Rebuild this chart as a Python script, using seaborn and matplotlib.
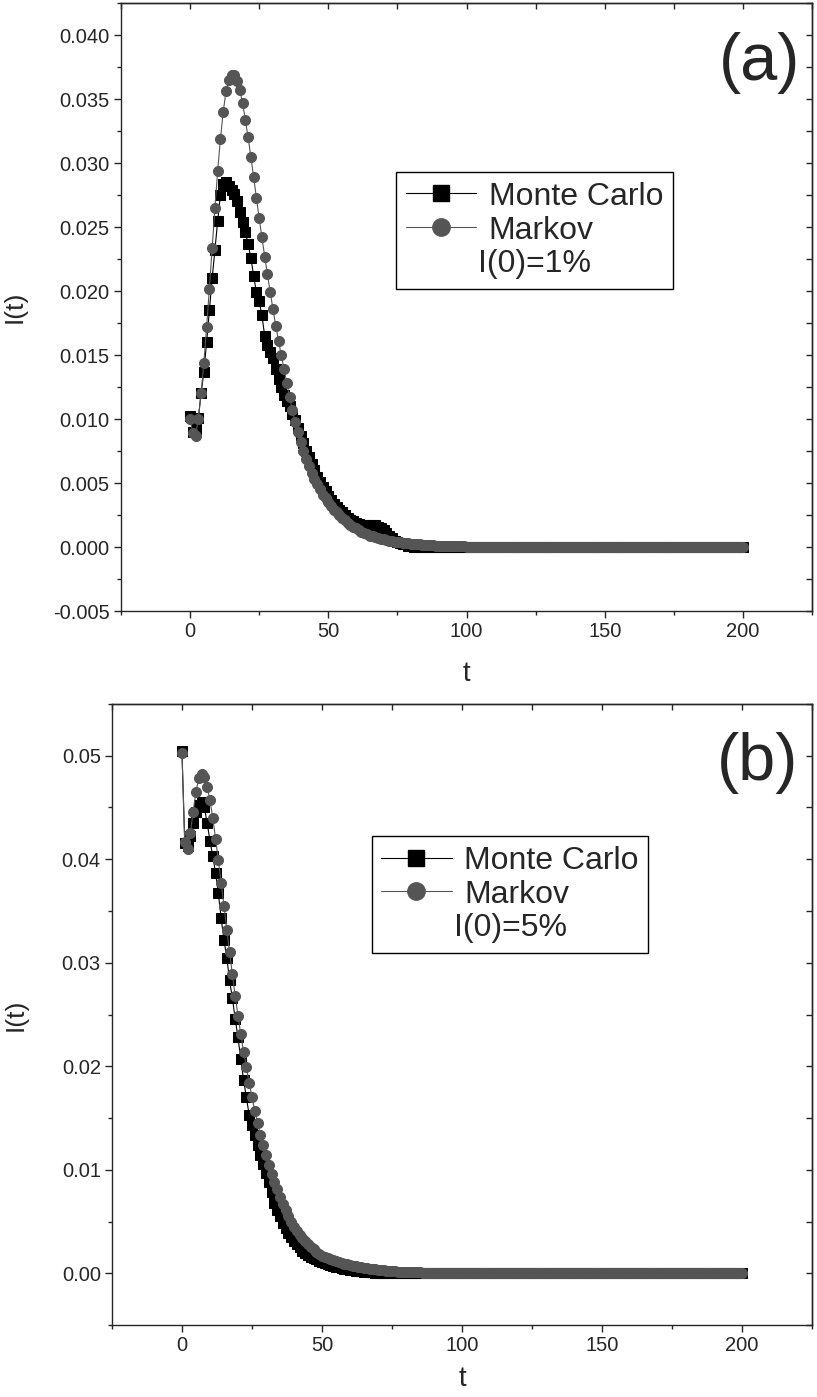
import numpy as np
import matplotlib
matplotlib.use("Agg")
import matplotlib.pyplot as plt
from matplotlib.lines import Line2D
from matplotlib.ticker import MultipleLocator, FormatStrFormatter
import seaborn as sns

# ---------------------------------------------------
# Data, t = 0..200
# ---------------------------------------------------

T = np.arange(0, 201)

MC_A = [
    0.0102, 0.0090, 0.0092, 0.0101, 0.0120, 0.0137, 0.0160, 0.0185, 0.0210, 0.0232,
    0.0255, 0.0275, 0.0284, 0.0285, 0.0282, 0.0279, 0.0276, 0.0270, 0.0262, 0.0254,
    0.0246, 0.0237, 0.0226, 0.0212, 0.0199, 0.0192, 0.0181, 0.0165, 0.0158, 0.0152,
    0.0148, 0.0139, 0.0131, 0.0125, 0.0119, 0.0114, 0.0110, 0.0104, 0.0099, 0.0093,
    0.0087, 0.0081, 0.0075, 0.0070, 0.0065, 0.0060, 0.0055, 0.0051, 0.0047, 0.0044,
    0.0040, 0.0037, 0.0034, 0.0031, 0.0029, 0.0027, 0.0025, 0.0023, 0.0021, 0.0020,
    0.0019, 0.0018, 0.0017, 0.0017, 0.0017, 0.0017, 0.0017, 0.0017, 0.0016, 0.0015,
    0.0013, 0.0011, 0.0009, 0.0007, 0.0005, 0.0004, 0.0003, 0.0002, 0.0002, 0.0001,
    0.0001, 0.0, 0.0, 0.0, 0.0, 0.0, 0.0, 0.0, 0.0, 0.0,
    0.0, 0.0, 0.0, 0.0, 0.0, 0.0, 0.0, 0.0, 0.0, 0.0,
    0.0, 0.0, 0.0, 0.0, 0.0, 0.0, 0.0, 0.0, 0.0, 0.0,
    0.0, 0.0, 0.0, 0.0, 0.0, 0.0, 0.0, 0.0, 0.0, 0.0,
    0.0, 0.0, 0.0, 0.0, 0.0, 0.0, 0.0, 0.0, 0.0, 0.0,
    0.0, 0.0, 0.0, 0.0, 0.0, 0.0, 0.0, 0.0, 0.0, 0.0,
    0.0, 0.0, 0.0, 0.0, 0.0, 0.0, 0.0, 0.0, 0.0, 0.0,
    0.0, 0.0, 0.0, 0.0, 0.0, 0.0, 0.0, 0.0, 0.0, 0.0,
    0.0, 0.0, 0.0, 0.0, 0.0, 0.0, 0.0, 0.0, 0.0, 0.0,
    0.0, 0.0, 0.0, 0.0, 0.0, 0.0, 0.0, 0.0, 0.0, 0.0,
    0.0, 0.0, 0.0, 0.0, 0.0, 0.0, 0.0, 0.0, 0.0, 0.0,
    0.0, 0.0, 0.0, 0.0, 0.0, 0.0, 0.0, 0.0, 0.0, 0.0,
    0.0,
]

MARKOV_A = [
    0.0100, 0.0089, 0.0087, 0.0100, 0.0120, 0.0144, 0.0172, 0.0202, 0.0234, 0.0265,
    0.0294, 0.0319, 0.0340, 0.0356, 0.0365, 0.0369, 0.0369, 0.0364, 0.0357, 0.0347,
    0.0334, 0.0320, 0.0305, 0.0289, 0.0273, 0.0257, 0.0242, 0.0227, 0.0213, 0.0199,
    0.0186, 0.0173, 0.0161, 0.0150, 0.0139, 0.0128, 0.0117, 0.0107, 0.0098, 0.0090,
    0.0082, 0.0075, 0.0069, 0.0063, 0.0058, 0.0053, 0.0049, 0.0045, 0.0041, 0.0038,
    0.0035, 0.0032, 0.0029, 0.0027, 0.0025, 0.0023, 0.0021, 0.0019, 0.0017, 0.0016,
    0.0015, 0.0013, 0.0012, 0.0011, 0.0010, 0.0009, 0.00085, 0.0008, 0.0007, 0.00065,
    0.0006, 0.00055, 0.0005, 0.00046, 0.00042, 0.00039, 0.00036, 0.00033, 0.0003, 0.00028,
    0.00026, 0.00024, 0.00022, 0.0002, 0.00018, 0.00017, 0.00016, 0.00014, 0.00013, 0.00012,
    0.00011, 0.0001, 0.00009, 0.00008, 0.00008, 0.00007, 0.00006, 0.00006, 0.00005, 0.00005,
    0.00004, 0.0, 0.0, 0.0, 0.0, 0.0, 0.0, 0.0, 0.0, 0.0,
    0.0, 0.0, 0.0, 0.0, 0.0, 0.0, 0.0, 0.0, 0.0, 0.0,
    0.0, 0.0, 0.0, 0.0, 0.0, 0.0, 0.0, 0.0, 0.0, 0.0,
    0.0, 0.0, 0.0, 0.0, 0.0, 0.0, 0.0, 0.0, 0.0, 0.0,
    0.0, 0.0, 0.0, 0.0, 0.0, 0.0, 0.0, 0.0, 0.0, 0.0,
    0.0, 0.0, 0.0, 0.0, 0.0, 0.0, 0.0, 0.0, 0.0, 0.0,
    0.0, 0.0, 0.0, 0.0, 0.0, 0.0, 0.0, 0.0, 0.0, 0.0,
    0.0, 0.0, 0.0, 0.0, 0.0, 0.0, 0.0, 0.0, 0.0, 0.0,
    0.0, 0.0, 0.0, 0.0, 0.0, 0.0, 0.0, 0.0, 0.0, 0.0,
    0.0, 0.0, 0.0, 0.0, 0.0, 0.0, 0.0, 0.0, 0.0, 0.0,
    0.0,
]

MC_B = [
    0.0505, 0.0416, 0.0413, 0.0422, 0.0435, 0.0446, 0.0452, 0.0455, 0.0450, 0.0435,
    0.0418, 0.0403, 0.0387, 0.0367, 0.0343, 0.0322, 0.0305, 0.0283, 0.0266, 0.0246,
    0.0228, 0.0207, 0.0187, 0.0170, 0.0153, 0.0143, 0.0134, 0.0124, 0.0114, 0.0106,
    0.0097, 0.0088, 0.0079, 0.0068, 0.0061, 0.0055, 0.0049, 0.0044, 0.0039, 0.0035,
    0.0031, 0.0028, 0.0025, 0.0022, 0.0020, 0.0018, 0.0016, 0.0015, 0.0014, 0.0012,
    0.0011, 0.0010, 0.0009, 0.0008, 0.0007, 0.0006, 0.0006, 0.0005, 0.0004, 0.0004,
    0.0003, 0.0003, 0.0002, 0.0002, 0.0002, 0.0001, 0.0001, 0.0001, 0.0001, 0.0,
    0.0, 0.0, 0.0, 0.0, 0.0, 0.0, 0.0, 0.0, 0.0, 0.0,
    0.0, 0.0, 0.0, 0.0, 0.0, 0.0, 0.0, 0.0, 0.0, 0.0,
    0.0, 0.0, 0.0, 0.0, 0.0, 0.0, 0.0, 0.0, 0.0, 0.0,
    0.0, 0.0, 0.0, 0.0, 0.0, 0.0, 0.0, 0.0, 0.0, 0.0,
    0.0, 0.0, 0.0, 0.0, 0.0, 0.0, 0.0, 0.0, 0.0, 0.0,
    0.0, 0.0, 0.0, 0.0, 0.0, 0.0, 0.0, 0.0, 0.0, 0.0,
    0.0, 0.0, 0.0, 0.0, 0.0, 0.0, 0.0, 0.0, 0.0, 0.0,
    0.0, 0.0, 0.0, 0.0, 0.0, 0.0, 0.0, 0.0, 0.0, 0.0,
    0.0, 0.0, 0.0, 0.0, 0.0, 0.0, 0.0, 0.0, 0.0, 0.0,
    0.0, 0.0, 0.0, 0.0, 0.0, 0.0, 0.0, 0.0, 0.0, 0.0,
    0.0, 0.0, 0.0, 0.0, 0.0, 0.0, 0.0, 0.0, 0.0, 0.0,
    0.0, 0.0, 0.0, 0.0, 0.0, 0.0, 0.0, 0.0, 0.0, 0.0,
    0.0, 0.0, 0.0, 0.0, 0.0, 0.0, 0.0, 0.0, 0.0, 0.0,
    0.0,
]

MARKOV_B = [
    0.0503, 0.0417, 0.0410, 0.0425, 0.0446, 0.0465, 0.0478, 0.0482, 0.0479, 0.0470,
    0.0457, 0.0440, 0.0420, 0.0399, 0.0377, 0.0355, 0.0332, 0.0310, 0.0289, 0.0268,
    0.0249, 0.0231, 0.0214, 0.0199, 0.0184, 0.0170, 0.0157, 0.0145, 0.0134, 0.0124,
    0.0114, 0.0105, 0.0096, 0.0088, 0.0081, 0.0074, 0.0067, 0.0061, 0.0055, 0.0050,
    0.0045, 0.0041, 0.0037, 0.0034, 0.0031, 0.0028, 0.0025, 0.0023, 0.0021, 0.0019,
    0.0017, 0.0016, 0.0015, 0.0014, 0.0013, 0.0012, 0.0011, 0.0010, 0.0009, 0.0009,
    0.0008, 0.0007, 0.0007, 0.0006, 0.0006, 0.0005, 0.0005, 0.00045, 0.0004, 0.00037,
    0.00034, 0.0003, 0.00028, 0.00025, 0.00023, 0.0002, 0.00019, 0.00017, 0.00015, 0.00014,
    0.00013, 0.00012, 0.00011, 0.0001, 0.00009, 0.00008, 0.00007, 0.00006, 0.00005, 0.00005,
    0.00004, 0.0, 0.0, 0.0, 0.0, 0.0, 0.0, 0.0, 0.0, 0.0,
    0.0, 0.0, 0.0, 0.0, 0.0, 0.0, 0.0, 0.0, 0.0, 0.0,
    0.0, 0.0, 0.0, 0.0, 0.0, 0.0, 0.0, 0.0, 0.0, 0.0,
    0.0, 0.0, 0.0, 0.0, 0.0, 0.0, 0.0, 0.0, 0.0, 0.0,
    0.0, 0.0, 0.0, 0.0, 0.0, 0.0, 0.0, 0.0, 0.0, 0.0,
    0.0, 0.0, 0.0, 0.0, 0.0, 0.0, 0.0, 0.0, 0.0, 0.0,
    0.0, 0.0, 0.0, 0.0, 0.0, 0.0, 0.0, 0.0, 0.0, 0.0,
    0.0, 0.0, 0.0, 0.0, 0.0, 0.0, 0.0, 0.0, 0.0, 0.0,
    0.0, 0.0, 0.0, 0.0, 0.0, 0.0, 0.0, 0.0, 0.0, 0.0,
    0.0, 0.0, 0.0, 0.0, 0.0, 0.0, 0.0, 0.0, 0.0, 0.0,
    0.0, 0.0, 0.0, 0.0, 0.0, 0.0, 0.0, 0.0, 0.0, 0.0,
    0.0,
]

SERIES_NAMES = ["Monte Carlo", "Markov"]
MC_COLOR = "black"
MK_COLOR = "#555555"

# ---------------------------------------------------
# Style
# ---------------------------------------------------

sns.set_style("ticks")
plt.rcParams["font.family"] = ["Liberation Sans", "DejaVu Sans"]
plt.rcParams["axes.linewidth"] = 1.0

fig = plt.figure(figsize=(8.17, 13.97), dpi=100)
ax_a = fig.add_axes([0.148, 0.5626, 0.846, 0.4352])
ax_b = fig.add_axes([0.137, 0.0515, 0.857, 0.4446])


def draw_panel(ax, mc, mk, ylim, ystep, yfmt, tag, tag_xy, note, leg_anchor,
               ylab_x, xlab_pad):
    sns.lineplot(x=T, y=mc, ax=ax, color=MC_COLOR, lw=0.8, marker="s",
                 markersize=6.5, markeredgecolor=MC_COLOR, markerfacecolor=MC_COLOR)
    sns.lineplot(x=T, y=mk, ax=ax, color=MK_COLOR, lw=0.8, marker="o",
                 markersize=7.2, markeredgecolor=MK_COLOR, markerfacecolor=MK_COLOR)

    ax.set_xlim(-25, 225)
    ax.set_ylim(*ylim)
    ax.xaxis.set_major_locator(MultipleLocator(50))
    ax.xaxis.set_minor_locator(MultipleLocator(25))
    ax.yaxis.set_major_locator(MultipleLocator(ystep))
    ax.yaxis.set_minor_locator(MultipleLocator(ystep / 2))
    ax.yaxis.set_major_formatter(FormatStrFormatter(yfmt))
    ax.tick_params(which="major", direction="out", length=5, width=1, labelsize=14.5, pad=3)
    ax.tick_params(which="minor", direction="out", length=3, width=1)

    # mirror ticks pointing inward on top / right
    top = ax.secondary_xaxis("top")
    top.xaxis.set_major_locator(MultipleLocator(25))
    top.tick_params(direction="in", length=4, width=1, labeltop=False)
    right = ax.secondary_yaxis("right")
    right.yaxis.set_major_locator(MultipleLocator(ystep / 2))
    right.tick_params(direction="in", length=4, width=1, labelright=False)

    ax.set_xlabel("t", fontsize=20, labelpad=xlab_pad)
    ax.set_ylabel("I(t)", fontsize=19)
    ax.yaxis.set_label_coords(ylab_x, 0.5)

    ax.text(tag_xy[0], tag_xy[1], tag, transform=ax.transAxes, fontsize=48,
            ha="right", va="center")

    handles = [
        Line2D([], [], color=MC_COLOR, lw=0.8, marker="s", markersize=12,
               markeredgecolor=MC_COLOR, markerfacecolor=MC_COLOR),
        Line2D([], [], color=MK_COLOR, lw=0.8, marker="o", markersize=12.5,
               markeredgecolor=MK_COLOR, markerfacecolor=MK_COLOR),
    ]
    leg = ax.legend(handles, SERIES_NAMES, title=note, loc="upper left",
                    bbox_to_anchor=leg_anchor, fontsize=23, title_fontsize=23,
                    frameon=True, fancybox=False, edgecolor="black", framealpha=1,
                    borderpad=0.3, handlelength=2.2, handletextpad=0.4,
                    labelspacing=0.12, borderaxespad=0)
    leg.get_frame().set_linewidth(1.0)
    # put the I(0) note under the entries, like the original
    leg._legend_box._children.reverse()


draw_panel(ax_a, MC_A, MARKOV_A, (-0.005, 0.0425), 0.005, "%.3f",
           "(a)", (0.983, 0.901), "I(0)=1%", (0.398, 0.722), -0.136, 14)
draw_panel(ax_b, MC_B, MARKOV_B, (-0.005, 0.055), 0.01, "%.2f",
           "(b)", (0.98, 0.905), "I(0)=5%", (0.371, 0.787), -0.12, 8)

fig.savefig("out.png", dpi=100)
plt.close()
